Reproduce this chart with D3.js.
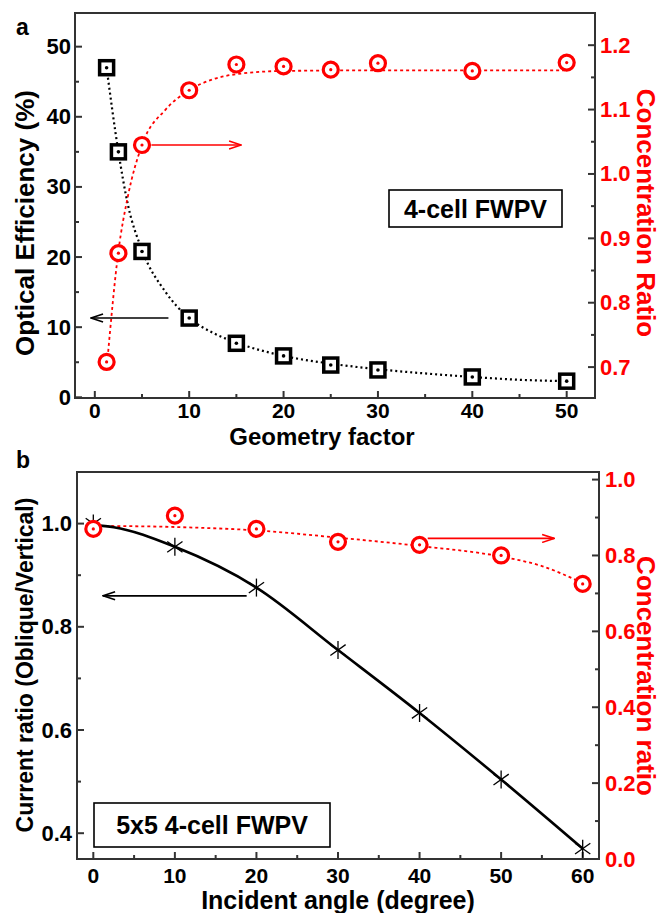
<!DOCTYPE html>
<html lang="en">
  <head>
    <meta charset="UTF-8" />
    <title>FWPV optical efficiency and concentration ratio</title>
    <script src="https://d3js.org/d3.v7.min.js"></script>
    <style>
      body { margin: 0; background: #fff; }
      text { font-family: "Liberation Sans", Arial, sans-serif; font-weight: bold; }
    </style>
  </head>
  <body></body>
  <script>
    // panel a
    var geomFactor = [1.25, 2.5, 5, 10, 15, 20, 25, 30, 40, 50];
    var opticalEff = [47, 35, 20.8, 11.3, 7.7, 5.9, 4.6, 3.9, 2.9, 2.3];
    var concRatioA = [0.708, 0.877, 1.045, 1.13, 1.17, 1.167, 1.162, 1.172, 1.16, 1.173];
    // dotted fit curves
    var effFitX = [1.25, 2.5, 3.5, 5, 7.5, 10, 12.5, 15, 20, 25, 30, 35, 40, 45, 50];
    var effFitY = [47, 35, 27.5, 21, 15, 11.3, 9.2, 7.8, 5.9, 4.8, 4.0, 3.4, 2.9, 2.5, 2.3];
    var concFitX = [1.3, 2.5, 3.5, 5, 7.5, 10, 12.5, 15, 20, 30, 40, 50];
    var concFitY = [0.705, 0.88, 0.965, 1.045, 1.1, 1.13, 1.147, 1.155, 1.16, 1.161, 1.161, 1.161];

    // panel b
    var angle = [0, 10, 20, 30, 40, 50, 60];
    var currentRatio = [1.0, 0.955, 0.876, 0.755, 0.633, 0.504, 0.37];
    var concRatioB = [0.87, 0.905, 0.87, 0.836, 0.828, 0.8, 0.725];
    var currentLineX = [0, 2.5, 10, 20, 30, 40, 50, 60];
    var currentLineY = [0.997, 0.993, 0.955, 0.876, 0.755, 0.633, 0.504, 0.37];
    var concFitBX = [0, 10, 20, 30, 40, 50, 55, 60];
    var concFitBY = [0.878, 0.875, 0.866, 0.847, 0.825, 0.797, 0.772, 0.727];

    var tickA = [0, 10, 20, 30, 40, 50];
    var tickA2 = [0.7, 0.8, 0.9, 1.0, 1.1, 1.2];
    var tickB = [0, 10, 20, 30, 40, 50, 60];
    var tickBL = [0.4, 0.6, 0.8, 1.0];
    var tickBR = [0.0, 0.2, 0.4, 0.6, 0.8, 1.0];

    var red = "#ff0000";

    var svg = d3.select("body").append("svg")
      .attr("width", 664).attr("height", 913);

    var defs = svg.append("defs");
    [["arrK", "#000"], ["arrR", red]].forEach(function (a) {
      defs.append("marker")
        .attr("id", a[0])
        .attr("viewBox", "0 0 14 10")
        .attr("refX", 13).attr("refY", 5)
        .attr("markerWidth", 14).attr("markerHeight", 10)
        .attr("markerUnits", "userSpaceOnUse")
        .attr("orient", "auto")
        .append("path")
        .attr("d", "M1,1 L13,5 L1,9")
        .attr("fill", "none")
        .attr("stroke", a[1])
        .attr("stroke-width", 1.6);
    });

    // generic helpers
    function frame(x, y) {
      var r = x.range(), d = y.range();
      svg.append("rect")
        .attr("x", r[0]).attr("y", d[1])
        .attr("width", r[1] - r[0]).attr("height", d[0] - d[1])
        .attr("fill", "none").attr("stroke", "#333").attr("stroke-width", 2);
    }

    function ticksBottom(x, y, major, minor) {
      var y0 = y.range()[0];
      var g = svg.append("g").attr("stroke", "#333").attr("stroke-width", 2);
      g.selectAll(".mj").data(major).join("line")
        .attr("x1", x).attr("x2", x).attr("y1", y0).attr("y2", y0 - 7);
      g.selectAll(".mn").data(minor).join("line")
        .attr("x1", x).attr("x2", x).attr("y1", y0).attr("y2", y0 - 4);
    }

    function ticksSide(x, y, major, minor, side) {
      var x0 = side === "left" ? x.range()[0] : x.range()[1];
      var s = side === "left" ? 1 : -1;
      var g = svg.append("g").attr("stroke", "#333").attr("stroke-width", 2);
      g.selectAll(".mj").data(major).join("line")
        .attr("y1", y).attr("y2", y).attr("x1", x0).attr("x2", x0 + s * 7);
      g.selectAll(".mn").data(minor).join("line")
        .attr("y1", y).attr("y2", y).attr("x1", x0).attr("x2", x0 + s * 4);
    }

    function squares(x, y, xs, ys) {
      var g = svg.append("g");
      g.selectAll("rect").data(xs).join("rect")
        .attr("x", function (d) { return x(d) - 7; })
        .attr("y", function (d, i) { return y(ys[i]) - 7; })
        .attr("width", 14).attr("height", 14)
        .attr("fill", "#fff").attr("stroke", "#000").attr("stroke-width", 3.5);
      g.selectAll("circle").data(xs).join("circle")
        .attr("cx", x).attr("cy", function (d, i) { return y(ys[i]); })
        .attr("r", 1.8).attr("fill", "#000");
    }

    function circles(x, y, xs, ys) {
      var g = svg.append("g");
      g.selectAll("circle.o").data(xs).join("circle")
        .attr("class", "o")
        .attr("cx", x).attr("cy", function (d, i) { return y(ys[i]); })
        .attr("r", 7.5).attr("fill", "#fff").attr("stroke", red).attr("stroke-width", 3.2);
      g.selectAll("circle.c").data(xs).join("circle")
        .attr("class", "c")
        .attr("cx", x).attr("cy", function (d, i) { return y(ys[i]); })
        .attr("r", 1.6).attr("fill", red);
    }

    function curve(x, y, xs, ys, color, dash, w, c) {
      var line = d3.line()
        .x(function (d) { return x(d); })
        .y(function (d, i) { return y(ys[i]); })
        .curve(c || d3.curveMonotoneX);
      svg.append("path")
        .attr("d", line(xs))
        .attr("fill", "none")
        .attr("stroke", color)
        .attr("stroke-width", w)
        .attr("stroke-dasharray", dash);
    }

    function arrow(x1, y1, x2, y2, color, id) {
      svg.append("line")
        .attr("x1", x1).attr("y1", y1).attr("x2", x2).attr("y2", y2)
        .attr("stroke", color).attr("stroke-width", 1.6)
        .attr("marker-end", "url(#" + id + ")");
    }

    function textBox(x, y, w, h, label) {
      svg.append("rect").attr("x", x).attr("y", y).attr("width", w).attr("height", h)
        .attr("fill", "#fff").attr("stroke", "#000").attr("stroke-width", 1.6);
      svg.append("text").attr("x", x + w / 2).attr("y", y + h / 2)
        .attr("text-anchor", "middle").attr("dominant-baseline", "central")
        .attr("font-size", 25).text(label);
    }

    // ---------- panel a ----------
    var xA = d3.scaleLinear().domain([-2.1, 53]).range([75, 595]);
    var yA = d3.scaleLinear().domain([-0.1, 54.8]).range([398, 13]);
    var yA2 = d3.scaleLinear().domain([0.652, 1.25]).range([398, 13]);

    ticksBottom(xA, yA, tickA, [5, 15, 25, 35, 45]);
    ticksSide(xA, yA, tickA, [5, 15, 25, 35, 45], "left");
    ticksSide(xA, yA2, tickA2, [0.75, 0.85, 0.95, 1.05, 1.15], "right");

    curve(xA, yA, effFitX, effFitY, "#000", "2,3", 2.2);
    curve(xA, yA2, concFitX, concFitY, red, "3,3", 1.8);

    textBox(389, 190, 173, 37, "4-cell FWPV");

    arrow(xA(7.8), yA(11.3), xA(-0.4), yA(11.3), "#000", "arrK");
    arrow(xA(6), yA2(1.045), xA(15.5), yA2(1.045), red, "arrR");

    squares(xA, yA, geomFactor, opticalEff);
    circles(xA, yA2, geomFactor, concRatioA);
    frame(xA, yA);

    svg.append("g").selectAll("text").data(tickA).join("text")
      .attr("x", xA).attr("y", 418).attr("text-anchor", "middle")
      .attr("font-size", 21).text(function (d) { return d; });
    svg.append("g").selectAll("text").data(tickA).join("text")
      .attr("x", 71).attr("y", function (d) { return yA(d); })
      .attr("text-anchor", "end").attr("dominant-baseline", "central")
      .attr("font-size", 22).text(function (d) { return d; });
    svg.append("g").selectAll("text").data(tickA2).join("text")
      .attr("x", 600).attr("y", function (d) { return yA2(d); })
      .attr("dominant-baseline", "central").attr("fill", red)
      .attr("font-size", 22).text(function (d) { return d.toFixed(1); });

    svg.append("text").attr("x", 322).attr("y", 445).attr("text-anchor", "middle")
      .attr("font-size", 24).text("Geometry factor");
    svg.append("text").attr("transform", "translate(25,223) rotate(-90)")
      .attr("text-anchor", "middle").attr("dominant-baseline", "central")
      .attr("font-size", 26).text("Optical Efficiency (%)");
    svg.append("text").attr("transform", "translate(646,213) rotate(90)")
      .attr("text-anchor", "middle").attr("dominant-baseline", "central")
      .attr("fill", red).attr("font-size", 26).text("Concentration Ratio");
    svg.append("text").attr("x", 16).attr("y", 35).attr("font-size", 23).text("a");

    // ---------- panel b ----------
    var xB = d3.scaleLinear().domain([-2, 62]).range([77, 599]);
    var yB = d3.scaleLinear().domain([0.35, 1.1]).range([859, 472]);
    var yB2 = d3.scaleLinear().domain([0, 1.02]).range([859, 472]);

    ticksBottom(xB, yB, tickB, [5, 15, 25, 35, 45, 55]);
    ticksSide(xB, yB, tickBL, [0.5, 0.7, 0.9], "left");
    ticksSide(xB, yB2, tickBR, [0.1, 0.3, 0.5, 0.7, 0.9], "right");

    curve(xB, yB2, concFitBX, concFitBY, red, "3,3", 1.8);
    curve(xB, yB, currentLineX, currentLineY, "#000", null, 2.6);

    // stars
    var star = svg.append("g").attr("stroke", "#000").attr("stroke-width", 1.3);
    angle.forEach(function (a, i) {
      var cx = xB(a), cy = yB(currentRatio[i]), r = 9;
      [[0, -r, 0, r], [-r * 0.85, -r * 0.6, r * 0.85, r * 0.6], [-r * 0.85, r * 0.6, r * 0.85, -r * 0.6]]
        .forEach(function (s) {
          star.append("line")
            .attr("x1", cx + s[0]).attr("y1", cy + s[1])
            .attr("x2", cx + s[2]).attr("y2", cy + s[3]);
        });
    });
    circles(xB, yB2, angle, concRatioB);

    arrow(xB(18.8), yB(0.86), xB(1.2), yB(0.86), "#000", "arrK");
    arrow(xB(41), yB2(0.845), xB(56.5), yB2(0.845), red, "arrR");

    textBox(94, 803, 236, 44, "5x5 4-cell FWPV");
    frame(xB, yB);

    svg.append("g").selectAll("text").data(tickB).join("text")
      .attr("x", xB).attr("y", 883).attr("text-anchor", "middle")
      .attr("font-size", 21).text(function (d) { return d; });
    svg.append("g").selectAll("text").data(tickBL).join("text")
      .attr("x", 72).attr("y", function (d) { return yB(d); })
      .attr("text-anchor", "end").attr("dominant-baseline", "central")
      .attr("font-size", 22).text(function (d) { return d.toFixed(1); });
    svg.append("g").selectAll("text").data(tickBR).join("text")
      .attr("x", 605).attr("y", function (d) { return yB2(d); })
      .attr("dominant-baseline", "central").attr("fill", red)
      .attr("font-size", 22).text(function (d) { return d.toFixed(1); });

    svg.append("text").attr("x", 338).attr("y", 909).attr("text-anchor", "middle")
      .attr("font-size", 25).text("Incident angle (degree)");
    svg.append("text").attr("transform", "translate(25,665) rotate(-90)")
      .attr("text-anchor", "middle").attr("dominant-baseline", "central")
      .attr("font-size", 23).text("Current ratio (Oblique/Vertical)");
    svg.append("text").attr("transform", "translate(646,676) rotate(90)")
      .attr("text-anchor", "middle").attr("dominant-baseline", "central")
      .attr("fill", red).attr("font-size", 26).text("Concentration ratio");
    svg.append("text").attr("x", 16).attr("y", 468).attr("font-size", 23).text("b");
  </script>
</html>
